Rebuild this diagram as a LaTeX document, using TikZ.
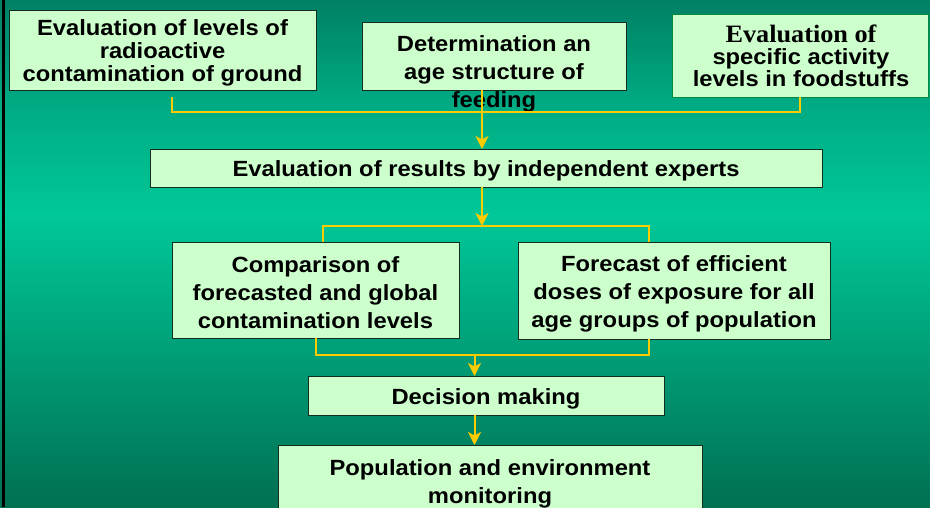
\documentclass[tikz,border=0pt]{standalone}
\usepackage{fontspec}
\setmainfont{Liberation Sans}[FakeStretch=1.08]
\newfontfamily\tnr{Liberation Serif}[FakeStretch=1.05]
\usetikzlibrary{arrows.meta}
\definecolor{boxfill}{RGB}{204,255,204}
\definecolor{boxline}{RGB}{20,45,35}
\definecolor{cline}{RGB}{0,140,60}
\definecolor{yel}{RGB}{255,204,0}
\definecolor{bgtop}{RGB}{0,128,100}
\definecolor{bgfour}{RGB}{0,170,130}
\definecolor{bgmid}{RGB}{0,200,152}
\definecolor{bgtwo}{RGB}{0,150,112}
\definecolor{bgbot}{RGB}{0,112,82}
\pgfdeclareverticalshading{bgshade}{100bp}{color(0bp)=(bgbot); color(25bp)=(bgbot); color(37.5bp)=(bgtwo); color(53.8bp)=(bgmid); color(65bp)=(bgfour); color(75bp)=(bgtop); color(100bp)=(bgtop)}
\begin{document}
\begin{tikzpicture}[x=1pt,y=-1pt,
  box/.style={draw=boxline, line width=1pt, fill=boxfill, inner sep=0pt, outer sep=0pt},
  txt/.style={align=center, inner sep=0pt, text=black, font=\bfseries\fontsize{22}{28}\selectfont},
  conn/.style={draw=yel, line width=2pt, line join=miter},
  arr/.style={conn, -{Stealth[length=13pt,width=13pt,inset=3.5pt,fill=yel]}}]
\useasboundingbox (0,0) rectangle (930,507);
\begin{scope}
\clip (0,0) rectangle (930,507);
\shade[shading=bgshade] (0,0) rectangle (930,507);
\fill[black] (2,0) rectangle (5,507);
% boxes
\node[box, minimum width=307pt, minimum height=80pt] (a) at (162.5,50) {};
\node[txt, font=\bfseries\fontsize{22}{23}\selectfont] (at) at (162.5,53)
  {Evaluation of levels of\\radioactive\\contamination of ground};
\node[box, minimum width=264pt, minimum height=68pt] (b) at (494,56) {};
\node[txt] (bt) at (494,74) {Determination an\\age structure of\\feeding};
\node[box, draw=cline, minimum width=256pt, minimum height=83pt] (c) at (800,55.5) {};
\node[txt, font=\bfseries\fontsize{22}{22}\selectfont] (ct) at (801,56)
  {{\tnr\fontsize{25}{22}\selectfont Evaluation of}\\specific activity\\levels in foodstuffs};
\node[box, minimum width=672pt, minimum height=38pt] (d) at (486,168) {};
\node[txt] (dt) at (486,171) {Evaluation of results by independent experts};
\node[box, minimum width=287pt, minimum height=96pt] (e) at (315.5,290) {};
\node[txt] (et) at (315.5,293) {Comparison of\\forecasted and global\\contamination levels};
\node[box, minimum width=312pt, minimum height=97pt] (f) at (674,290.5) {};
\node[txt] (ft) at (674,293.5) {Forecast of efficient\\doses of exposure for all\\age groups of population};
\node[box, minimum width=356pt, minimum height=39pt] (g) at (486,395.5) {};
\node[txt] (gt) at (486,398.5) {Decision making};
\node[box, minimum width=424pt, minimum height=72pt] (h) at (490,481) {};
\node[txt] (ht) at (490,484) {Population and environment\\monitoring};
% connectors
\coordinate (t1) at (172,97);
\coordinate (t2) at (172,112);
\coordinate (tm) at (482,112);
\draw[conn] (t1) -- (t2) -- (t2 -| c.south) -- (c.south);
\draw[arr] (tm |- b.south) -- (tm |- d.north);
\coordinate (m1) at (482,226);
\coordinate (ml) at (323,226);
\coordinate (mr) at (649,226);
\draw[arr] (m1 |- d.south) -- (m1);
\draw[conn] (ml |- e.north) -- (ml) -- (mr) -- (mr |- f.north);
\coordinate (ll) at (316,355);
\coordinate (lr) at (649,355);
\coordinate (lm) at (474.5,355);
\draw[conn] (ll |- e.south) -- (ll) -- (lr) -- (lr |- f.south);
\draw[arr] (lm) -- (lm |- g.north);
\draw[arr] (lm |- g.south) -- (lm |- h.north);
\end{scope}
\end{tikzpicture}
\end{document}
